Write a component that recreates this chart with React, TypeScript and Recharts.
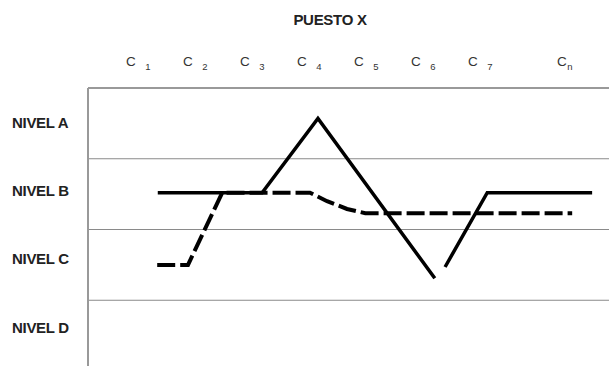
import { LineChart, Line, XAxis, YAxis, ReferenceLine } from "recharts";

// column ticks (x in column units, C1 = 1)
const columnTicks = [1, 2, 3, 4, 5, 6, 7, 8.56];
const columnSubs = ["1", "2", "3", "4", "5", "6", "7", "n"];

// level bands (y: D=0..1, C=1..2, B=2..3, A=3..4), label positions as drawn
const levelTicks = [0.61, 1.58, 2.54, 3.5];
const levelNames = ["NIVEL D", "NIVEL C", "NIVEL B", "NIVEL A"];
const levelBounds = [1, 2, 3];

// solid line
const solidX = [1.47, 3.3, 4.28, 6.33, 6.42, 6.51, 7.25, 9.09];
const solidY = [2.52, 2.52, 3.57, 1.31, null, 1.47, 2.52, 2.52];

// dashed line
const dashX = [1.46, 2.0, 2.6, 4.14, 4.44, 4.79, 5.11, 8.74];
const dashY = [1.5, 1.5, 2.52, 2.52, 2.4, 2.29, 2.23, 2.23];

const solidData = solidX.map((x, i) => ({ x, y: solidY[i] }));
const dashData = dashX.map((x, i) => ({ x, y: dashY[i] }));

const FONT = "'Liberation Sans', Arial, sans-serif";

function ColumnTick(props: any) {
  const { x, y, index } = props;
  const sub = columnSubs[index] ?? "";
  const isN = sub === "n";
  return (
    <g>
      <text
        x={x}
        y={y - 14}
        textAnchor="middle"
        fontFamily={FONT}
        fontSize={13.5}
        fill="#333"
      >
        C
      </text>
      <text
        x={x + (isN ? 8 : 17)}
        y={y - 10}
        textAnchor="middle"
        fontFamily={FONT}
        fontSize={9.5}
        fill="#333"
      >
        {sub}
      </text>
    </g>
  );
}

function LevelTick(props: any) {
  const { y, payload } = props;
  const i = levelTicks.indexOf(payload.value);
  return (
    <text
      x={12}
      y={y + 5}
      textAnchor="start"
      fontFamily={FONT}
      fontSize={15}
      fontWeight="bold"
      letterSpacing={-0.3}
      fill="#222"
    >
      {levelNames[i]}
    </text>
  );
}

export default function App() {
  return (
    <div
      style={{
        position: "absolute",
        left: 0,
        top: 0,
        width: 609,
        height: 366,
        overflow: "hidden",
        background: "#fff",
      }}
    >
      <div
        style={{
          position: "absolute",
          left: 0,
          width: 660,
          top: 11,
          textAlign: "center",
          fontFamily: FONT,
          fontWeight: "bold",
          fontSize: 15,
          letterSpacing: -0.3,
          color: "#222",
        }}
      >
        PUESTO X
      </div>
      <LineChart
        width={609}
        height={371}
        margin={{ top: 58, right: 0, bottom: 0, left: 0 }}
      >
        <XAxis
          type="number"
          dataKey="x"
          orientation="top"
          height={30}
          domain={[0.246, 9.386]}
          allowDataOverflow
          ticks={columnTicks}
          tick={<ColumnTick />}
          tickLine={false}
          axisLine={{ stroke: "#999", strokeWidth: 2 }}
          interval={0}
        />
        <YAxis
          type="number"
          dataKey="y"
          width={88}
          domain={[0, 4]}
          allowDataOverflow
          ticks={levelTicks}
          tick={<LevelTick />}
          tickLine={false}
          axisLine={{ stroke: "#999", strokeWidth: 2 }}
          interval={0}
        />
        {levelBounds.map((b) => (
          <ReferenceLine key={b} y={b} stroke="#8a8a8a" strokeWidth={1} />
        ))}
        <Line
          data={solidData}
          dataKey="y"
          type="linear"
          stroke="#000"
          strokeWidth={3.5}
          dot={false}
          connectNulls={false}
          isAnimationActive={false}
        />
        <Line
          data={dashData}
          dataKey="y"
          type="linear"
          stroke="#000"
          strokeWidth={4}
          strokeDasharray="18 5"
          dot={false}
          isAnimationActive={false}
        />
      </LineChart>
    </div>
  );
}
